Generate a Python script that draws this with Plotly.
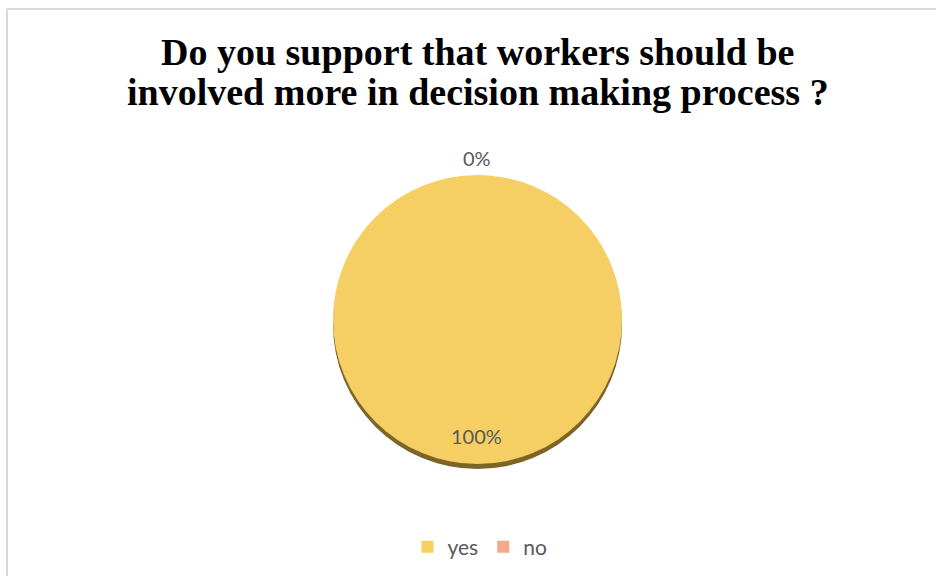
import plotly.graph_objects as go

categories = ["yes", "no"]
values = [100, 0]
colors = ["#F5CF63", "#F4A98A"]
title_lines = ["Do you support that workers should be",
               "involved more in decision making process ?"]

W, H = 936, 576
total = sum(values)
pcts = [f"{round(v / total * 100)}%" for v in values]

# pie domain in pixels (left, right, top, bottom)
px_l, px_r, px_t, px_b = 331, 624, 175, 464
dom_x = [px_l / W, px_r / W]
dom_y = [1 - px_b / H, 1 - px_t / H]
sh = 5 / H

fig = go.Figure()
# shadow
fig.add_trace(go.Pie(
    labels=categories, values=values, sort=False, direction="clockwise",
    marker=dict(colors=["#7E6527", "#7E6527"], line=dict(width=0)),
    textinfo="none", hoverinfo="skip", showlegend=False,
    domain=dict(x=dom_x, y=[dom_y[0] - sh, dom_y[1] - sh]),
))
fig.add_trace(go.Pie(
    labels=categories, values=values, sort=False, direction="clockwise",
    marker=dict(colors=colors, line=dict(width=0)),
    textinfo="none", showlegend=True,
    domain=dict(x=dom_x, y=dom_y),
))

label_font = dict(family="Lato, Carlito, sans-serif", size=20, color="#595959")
fig.add_annotation(x=477 / W, y=1 - 158 / H, xref="paper", yref="paper",
                   text=pcts[1], showarrow=False, font=label_font,
                   xanchor="center", yanchor="middle")
fig.add_annotation(x=476 / W, y=1 - 436 / H, xref="paper", yref="paper",
                   text=pcts[0], showarrow=False, font=label_font,
                   xanchor="center", yanchor="middle")

# title (two lines, tight line spacing)
title_font = dict(family="Liberation Serif, Times New Roman, serif",
                  size=38, color="black", weight="bold")
for line, yc in zip(title_lines, [52, 92]):
    fig.add_annotation(x=478 / W, y=1 - yc / H, xref="paper", yref="paper",
                       text=line, showarrow=False, font=title_font,
                       xanchor="center", yanchor="middle")

# chart border (light grey frame)
border = dict(color="#D9D9D9", width=2)
fig.add_shape(type="line", xref="paper", yref="paper",
              x0=7 / W, x1=1, y0=1 - 9 / H, y1=1 - 9 / H, line=border)
fig.add_shape(type="line", xref="paper", yref="paper",
              x0=7 / W, x1=7 / W, y0=1 - 9 / H, y1=0, line=border)

fig.update_layout(
    width=W, height=H,
    margin=dict(l=0, r=0, t=0, b=0),
    paper_bgcolor="white", plot_bgcolor="white",
    legend=dict(orientation="h", x=480 / W, xanchor="center",
                y=1 - 547 / H, yanchor="middle",
                font=dict(family="Lato, Carlito, sans-serif", size=21, color="#595959"),
                itemwidth=30, traceorder="normal"),
)

fig.write_html("out.html")
